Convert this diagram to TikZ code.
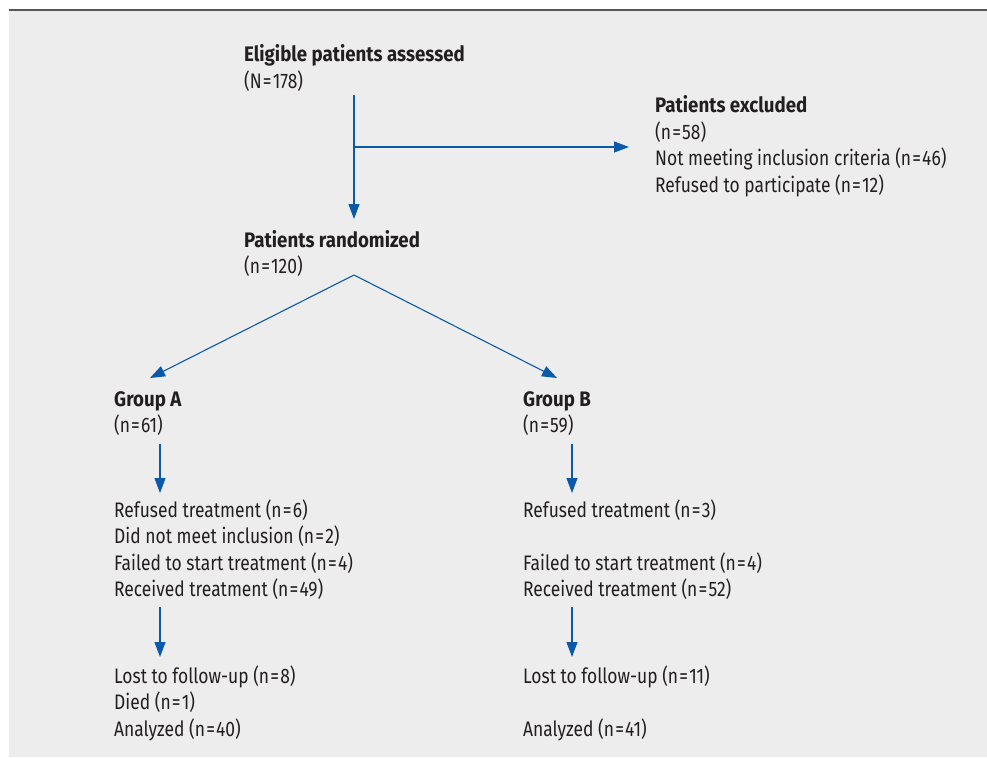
\documentclass[tikz,border=0pt]{standalone}
\usepackage{fontspec}
\setmainfont{Fira Sans}[FakeStretch=0.83, BoldFeatures={FakeStretch=0.89}]
\usetikzlibrary{arrows.meta}
\definecolor{bg}{HTML}{EDEDED}
\definecolor{txt}{HTML}{231F20}
\definecolor{arr}{HTML}{0B5AAA}
\definecolor{rule}{HTML}{555555}
\tikzset{
  lbl/.style={anchor=base west, inner sep=0pt, text=txt, font=\fontsize{21}{26.5}\selectfont},
  flow/.style={draw=arr, line width=1.1pt, -{Triangle[length=15pt,width=11pt]}, arr}
}
\newcommand{\blk}[1]{\begin{tabular}[t]{@{}l@{}}#1\end{tabular}}
\newcommand{\eq}{\kern1.2pt=\kern1.2pt}
\begin{document}
\begin{tikzpicture}[x=1pt,y=-1pt]
\useasboundingbox (0,0) rectangle (987,757);
\fill[bg] (9,10) rectangle (987,757);
\draw[rule, line width=1.5pt] (9,10) -- (987,10);

\node[lbl] (elig) at (244,62) {\blk{\textbf{Eligible patients assessed}\\(N\eq 178)}};
\node[lbl] (excl) at (655,113) {\blk{\textbf{Patients excluded}\\(n\eq 58)\\Not meeting inclusion criteria (n\eq 46)\\Refused to participate (n\eq 12)}};
\node[lbl] (rand) at (244,247) {\blk{\textbf{Patients randomized}\\(n\eq 120)}};
\node[lbl] (ga) at (114,406) {\blk{\textbf{Group A}\\(n\eq 61)}};
\node[lbl] (gb) at (523,406) {\blk{\textbf{Group B}\\(n\eq 59)}};
\node[lbl] (ta) at (114,517) {\blk{Refused treatment (n\eq 6)\\Did not meet inclusion (n\eq 2)\\Failed to start treatment (n\eq 4)\\Received treatment (n\eq 49)}};
\node[lbl] (tb) at (523,517) {\blk{Refused treatment (n\eq 3)\\ \\Failed to start treatment (n\eq 4)\\Received treatment (n\eq 52)}};
\node[lbl] (fa) at (114,683) {\blk{Lost to follow-up (n\eq 8)\\Died (n\eq 1)\\Analyzed (n\eq 40)}};
\node[lbl] (fb) at (523,683) {\blk{Lost to follow-up (n\eq 11)\\ \\Analyzed (n\eq 41)}};

\coordinate (e0) at (354,95);
\coordinate (r0) at (354,219);
\coordinate (x0) at (354,147);
\coordinate (x1) at (629,147);
\coordinate (rt) at (354,275);
\coordinate (a0) at (150,378);
\coordinate (b0) at (557,378);
\coordinate (a1) at (160,444);
\coordinate (a2) at (160,493);
\coordinate (a3) at (160,607);
\coordinate (a4) at (160,657);
\coordinate (b1) at (572,444);
\coordinate (b2) at (572,493);
\coordinate (b3) at (572,607);
\coordinate (b4) at (572,657);

\draw[flow] (e0) -- (r0);
\draw[flow] (x0) -- (x1);
\draw[flow] (rt) -- (a0);
\draw[flow] (rt) -- (b0);
\draw[flow] (a1) -- (a2);
\draw[flow] (a3) -- (a4);
\draw[flow] (b1) -- (b2);
\draw[flow] (b3) -- (b4);
\end{tikzpicture}
\end{document}
